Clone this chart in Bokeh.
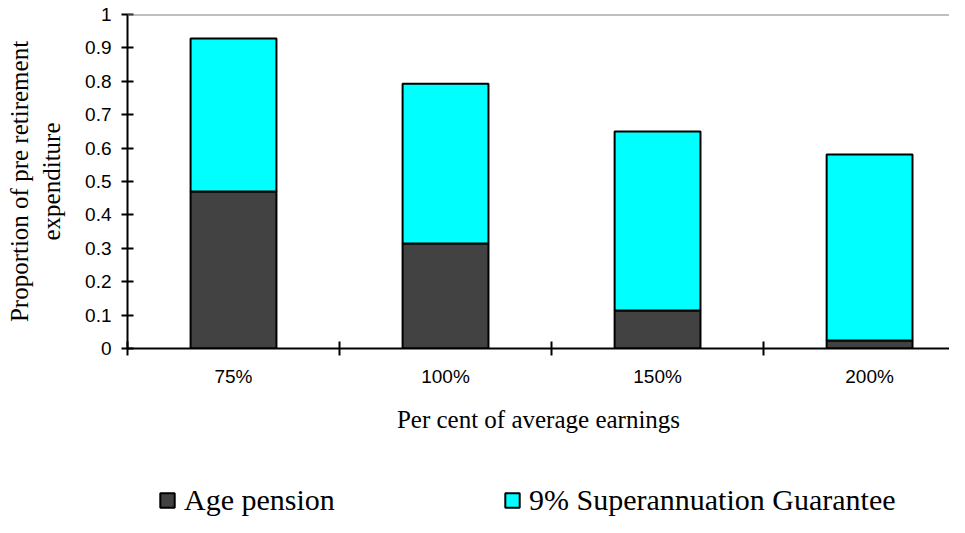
import numpy as np
from bokeh.plotting import figure
from bokeh.layouts import column
from bokeh.models import (ColumnDataSource, FixedTicker, Span, Legend, LegendItem)
from bokeh.embed import file_html
from bokeh.resources import INLINE

# ---- data ----
categories = ["75%", "100%", "150%", "200%"]
age_pension = [0.470, 0.314, 0.114, 0.024]
super_guarantee = [0.458, 0.479, 0.536, 0.557]
y_ticks = [0, 0.1, 0.2, 0.3, 0.4, 0.5, 0.6, 0.7, 0.8, 0.9, 1]
series_names = ["Age pension", "9% Superannuation Guarantee"]
colors = ["#424242", "#00FFFF"]

centers = list(np.arange(len(categories)) + 0.5)
boundaries = list(np.arange(len(categories)).astype(float))

source = ColumnDataSource(dict(x=centers, age=age_pension, sg=super_guarantee))

p = figure(width=949, height=477, output_backend="svg", toolbar_location=None,
           x_range=(0, 3.877), y_range=(0, 1),
           min_border_left=127, min_border_right=0, min_border_top=14,
           min_border_bottom=129)
p.background_fill_color = "white"
p.border_fill_color = "white"
p.outline_line_alpha = 0
p.xgrid.visible = False
p.ygrid.visible = False

bar_kw = dict(x="x", width=0.405, source=source, fill_color=colors,
              line_color="black", line_width=2)
p.vbar_stack(["age", "sg"], **bar_kw)

p.add_layout(Span(location=1, dimension="width", line_color="#808080", line_width=2))

# x axis
xa = p.xaxis[0]
xa.ticker = FixedTicker(ticks=centers, minor_ticks=boundaries)
xa.major_label_overrides = {c: lab for c, lab in zip(centers, categories)}
xa.major_tick_in = 0
xa.major_tick_out = 0
xa.minor_tick_in = 7
xa.minor_tick_out = 7
xa.minor_tick_line_width = 2
xa.minor_tick_line_color = "black"
xa.axis_line_width = 2
xa.axis_line_color = "black"
xa.major_label_text_font = "Liberation Sans"
xa.major_label_text_font_size = "19px"
xa.major_label_text_color = "black"
xa.major_label_standoff = 10
xa.axis_label = "Per cent of average earnings"
xa.axis_label_text_font = "Liberation Serif"
xa.axis_label_text_font_size = "25px"
xa.axis_label_text_font_style = "normal"
xa.axis_label_text_color = "black"
xa.axis_label_standoff = 16

# y axis
ya = p.yaxis[0]
ya.ticker = FixedTicker(ticks=y_ticks, minor_ticks=[])
ya.major_label_overrides = {0: "0", 1: "1"}
ya.major_tick_in = 6
ya.major_tick_out = 6
ya.major_tick_line_width = 2
ya.major_tick_line_color = "black"
ya.axis_line_width = 2
ya.axis_line_color = "black"
ya.major_label_text_font = "Liberation Sans"
ya.major_label_text_font_size = "19px"
ya.major_label_text_color = "black"
ya.major_label_standoff = 10
ya.axis_label = "Proportion of pre retirement\nexpenditure"
ya.axis_label_text_font = "Liberation Serif"
ya.axis_label_text_font_size = "25px"
ya.axis_label_text_font_style = "normal"
ya.axis_label_text_color = "black"
ya.axis_label_standoff = 17

# ---- legend strip below the chart ----
p2 = figure(width=949, height=40, output_backend="svg", toolbar_location=None,
            x_axis_location=None, y_axis_location=None,
            min_border_left=0, min_border_right=0, min_border_top=0, min_border_bottom=0)
p2.outline_line_alpha = 0
p2.xgrid.visible = False
p2.ygrid.visible = False
proxies = p2.vbar_stack(["age", "sg"], **bar_kw)
for r in proxies:
    r.visible = False

legend = Legend(items=[LegendItem(label=n, renderers=[r]) for n, r in zip(series_names, proxies)],
                location=(31, 0), orientation="horizontal",
                padding=0, margin=0, spacing=0, label_standoff=8,
                glyph_width=18, glyph_height=18, label_width=319,
                border_line_alpha=0, background_fill_alpha=0,
                label_text_font="Liberation Serif", label_text_font_size="30px",
                label_text_color="black")
p2.add_layout(legend)

open("out.html", "w").write(file_html(column(p, p2), INLINE))
